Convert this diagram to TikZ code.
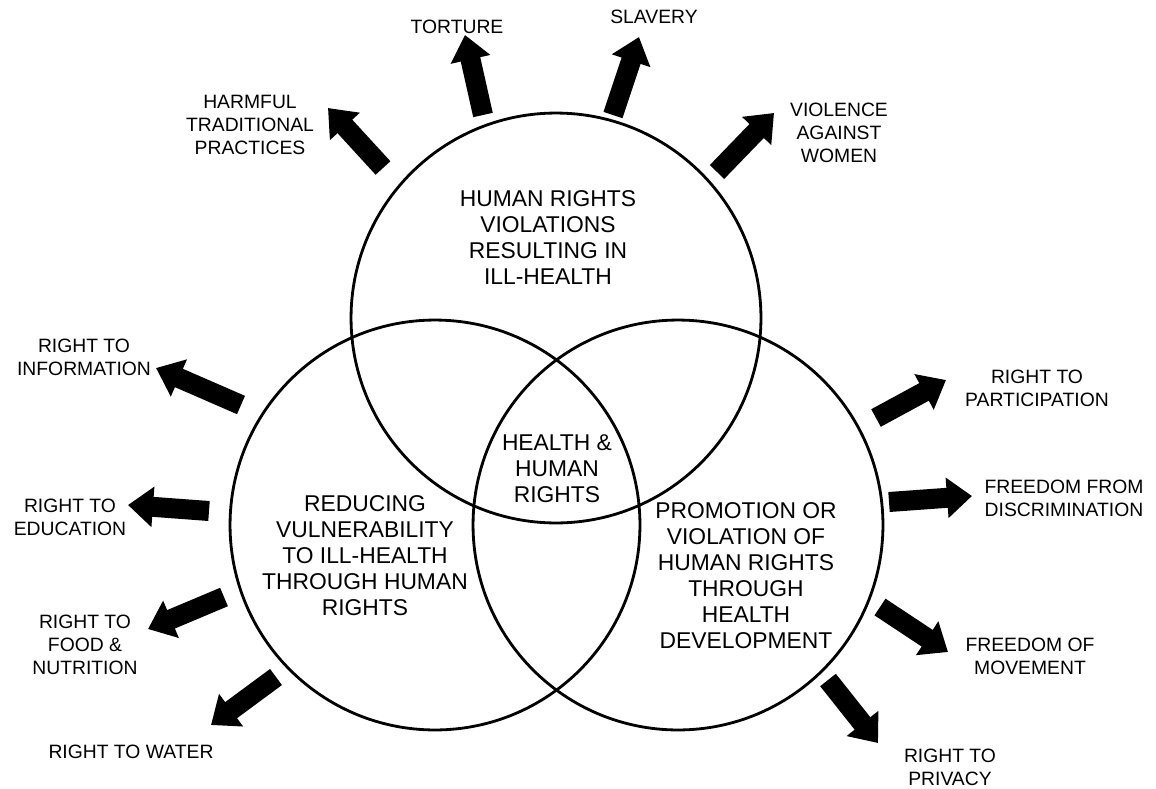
\documentclass[tikz,border=0pt]{standalone}
\usepackage{fontspec}
\setmainfont{Liberation Sans}
\usetikzlibrary{arrows.meta}

\begin{document}
\begin{tikzpicture}[x=0.02cm, y=-0.02cm,
  ring/.style={circle, draw, line width=1.6pt, minimum size=8.2cm, inner sep=0pt},
  fat arrow/.style={line width=0.4cm, -{Triangle[width=0.78cm, length=0.5cm]}},
  small/.style={align=center, inner sep=0pt, font=\fontsize{11}{13}\selectfont},
  big/.style={align=center, inner sep=0pt, font=\fontsize{13}{14.8}\selectfont}]
\useasboundingbox (0,0) rectangle (1156,788);
% Cercles
\node[ring] (violations) at (556,318) {};
\node[ring] (vulnerability) at (435,525) {};
\node[ring] (promotion) at (678,525) {};
\node[big] (violations-text) at (548,238) {HUMAN RIGHTS\\VIOLATIONS\\RESULTING IN\\ILL-HEALTH};
\node[big] (core-text) at (557,469) {HEALTH \&\\HUMAN\\RIGHTS};
\node[big] (vulnerability-text) at (365,556) {REDUCING\\VULNERABILITY\\TO ILL-HEALTH\\THROUGH HUMAN\\RIGHTS};
\node[big] (promotion-text) at (746,576) {PROMOTION OR\\VIOLATION OF\\HUMAN RIGHTS\\THROUGH\\HEALTH\\DEVELOPMENT};
% Fleches
\foreach \name/\sx/\sy/\tx/\ty in {torture/483/115/465/35, slavery/613/115/639/37,
  harmful/383/168/328/108, violence/717/172/774/113,
  information/241/405/156/368, education/209/511/128/505,
  food/224/597/148/629, water/276/677/211/725,
  participation/876/418/946/380, discrimination/889/502/972/496,
  movement/880/607/948/652, privacy/828/680/878/743} {
  \coordinate (\name-base) at (\sx,\sy);
  \coordinate (\name-tip) at (\tx,\ty);
  \draw[fat arrow] (\name-base) -- (\name-tip);
}
% Etiquettes
\node[small] (torture) at (457,27) {TORTURE};
\node[small] (slavery) at (654,17) {SLAVERY};
\node[small] (harmful) at (250,125) {HARMFUL\\TRADITIONAL\\PRACTICES};
\node[small] (violence) at (839,133) {VIOLENCE\\AGAINST\\WOMEN};
\node[small] (information) at (84,357) {RIGHT TO\\INFORMATION};
\node[small] (education) at (70,517) {RIGHT TO\\EDUCATION};
\node[small] (food) at (85,645) {RIGHT TO\\FOOD \&\\NUTRITION};
\node[small] (water) at (131,752) {RIGHT TO WATER};
\node[small] (participation) at (1037,388) {RIGHT TO\\PARTICIPATION};
\node[small] (discrimination) at (1064,498) {FREEDOM FROM\\DISCRIMINATION};
\node[small] (movement) at (1030,656) {FREEDOM OF\\MOVEMENT};
\node[small] (privacy) at (950,767) {RIGHT TO\\PRIVACY};
\end{tikzpicture}
\end{document}
